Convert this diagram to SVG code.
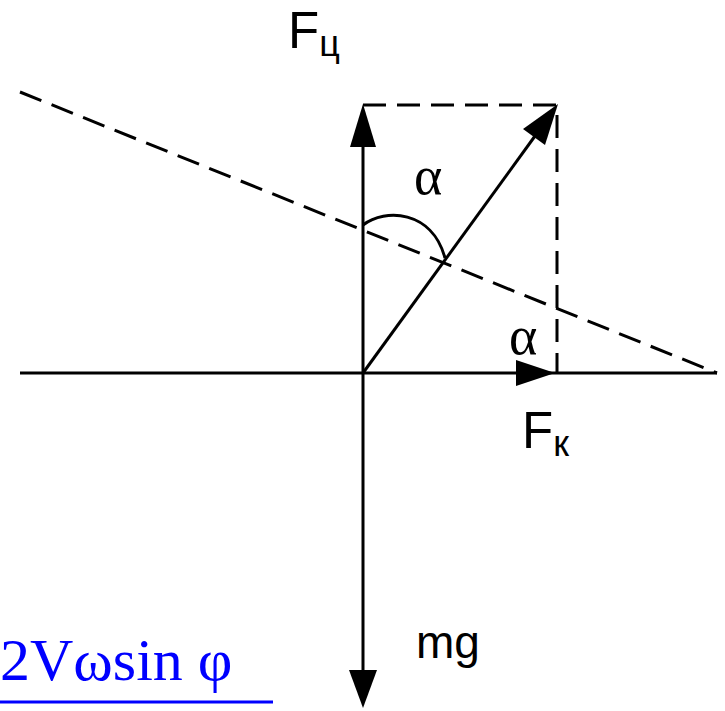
<svg xmlns="http://www.w3.org/2000/svg" width="725" height="711" viewBox="0 0 725 711">
<style>
.ax{stroke:#000;stroke-width:3;fill:none}
.dash{stroke:#000;stroke-width:3;fill:none;stroke-dasharray:23 11}
.head{fill:#000}
.sans{font-family:"Liberation Sans",Arial,sans-serif;fill:#000}
.serif{font-family:"Liberation Serif","Times New Roman",serif}
</style>
<rect width="725" height="711" fill="#fff"/>
<g id="connectors">
<line class="dash" x1="20" y1="92" x2="717" y2="373"/>
<polyline class="dash" points="363,105 557,105 557,373"/>
<line class="ax" x1="20" y1="373" x2="717" y2="373"/>
<line class="ax" x1="363" y1="140" x2="363" y2="675"/>
<line class="ax" x1="363" y1="373" x2="535" y2="136"/>
<path class="ax" d="M363,225 C385,208 432,210 445,258" stroke-width="2.5"/>
<polygon class="head" points="363,104 350,147 376,147"/>
<polygon class="head" points="363,708 349,670 377,670"/>
<polygon class="head" points="555,373 516,360 516,386"/>
<polygon class="head" points="558,104 523,129 545,145"/>
</g>
<g id="Fc"><text class="sans" x="288" y="48" font-size="51">F<tspan font-size="36" dy="8">ц</tspan></text></g>
<g id="Fk"><text class="sans" x="522" y="448" font-size="51">F<tspan font-size="36" dy="8">к</tspan></text></g>
<g id="mg"><text class="sans" x="416" y="658" font-size="46">mg</text></g>
<g id="alpha1"><text class="serif" x="414" y="194" font-size="54">α</text></g>
<g id="alpha2"><text class="serif" x="509" y="354" font-size="54">α</text></g>
<g id="formula"><text class="serif" x="0" y="680" font-size="60" fill="#0000ff">2Vωsin φ</text>
<line x1="0" y1="702" x2="273" y2="702" stroke="#0000ff" stroke-width="3"/></g>
</svg>
